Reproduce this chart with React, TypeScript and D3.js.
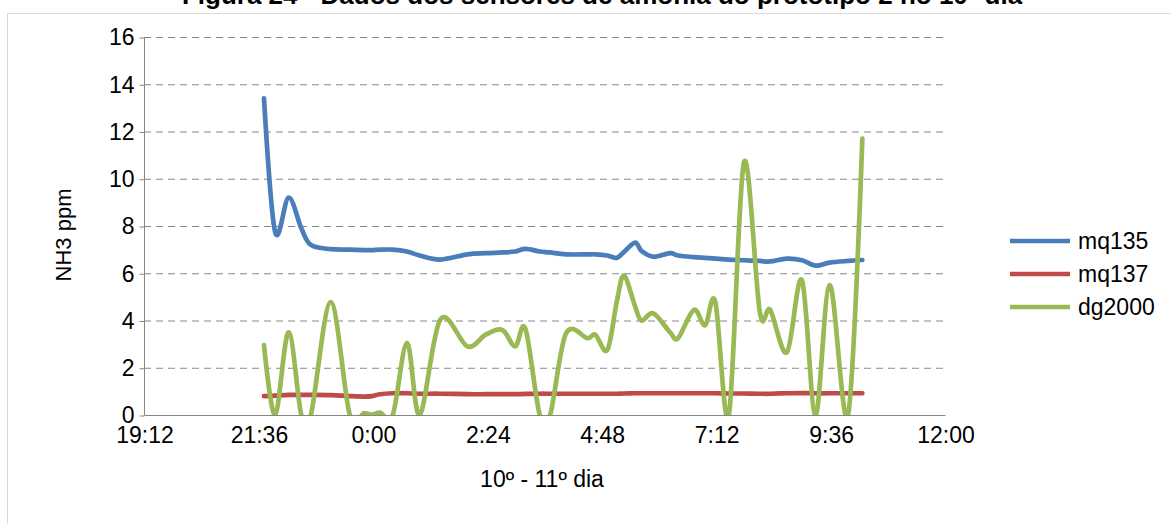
import React, { useEffect, useRef } from 'react';
import * as d3 from 'd3';

// readings (times after midnight belong to the next day)
const times = ["21:43","21:57","22:14","22:30","22:42","23:07","23:31","23:49","23:59","0:09","0:25","0:43","0:59","1:25","1:59","2:22","2:43","2:59","3:12","3:30","3:43","4:03","4:30","4:40","4:55","5:07","5:16","5:30","5:38","5:53","6:14","6:24","6:44","6:58","7:11","7:28","7:47","8:07","8:20","8:41","9:00","9:17","9:35","9:58","10:16"];
const mq135 = [13.4,7.75,9.2,7.9,7.2,7.02,7.0,6.98,6.98,7.0,7.0,6.92,6.75,6.58,6.8,6.85,6.88,6.92,7.03,6.92,6.88,6.8,6.8,6.8,6.75,6.65,6.9,7.3,6.95,6.7,6.85,6.75,6.68,6.65,6.62,6.58,6.55,6.52,6.5,6.62,6.55,6.32,6.45,6.52,6.56];
const mq137 = [0.8,0.82,0.85,0.85,0.85,0.84,0.8,0.78,0.8,0.88,0.92,0.92,0.9,0.9,0.88,0.88,0.88,0.88,0.89,0.9,0.9,0.9,0.9,0.9,0.9,0.9,0.91,0.92,0.92,0.92,0.92,0.92,0.92,0.92,0.92,0.91,0.91,0.9,0.9,0.92,0.93,0.92,0.92,0.92,0.92];
const dg2000 = [2.96,0,3.5,0,0,4.78,0,0.08,0.02,0.1,0,3.05,0,4.05,2.9,3.4,3.6,2.9,3.65,0,0,3.45,3.25,3.4,2.75,4.8,5.9,4.6,4.0,4.3,3.5,3.25,4.45,3.8,4.78,0,10.7,4.35,4.45,2.65,5.7,0,5.5,0,11.7];

const seriesNames = ["mq135", "mq137", "dg2000"];
const seriesColors = ["#4a7ebb", "#be4b48", "#98b954"];
const xTickLabels = ["19:12","21:36","0:00","2:24","4:48","7:12","9:36","12:00"];
const yTicks = [0, 2, 4, 6, 8, 10, 12, 14, 16];

const title = "Figura 24 - Dados dos sensores de amônia do protótipo 2 no 10º dia";
const xTitle = "10º - 11º dia";
const yTitle = "NH3 ppm";

const FONT = "'Liberation Sans', Arial, sans-serif";

// "HH:MM" -> fraction of a day, hours before 19h belong to the next day
function toDay(s: string) {
  const [h, m] = s.split(':').map(Number);
  return (h < 19 ? 1 : 0) + h / 24 + m / 1440;
}

export default function App() {
  const svgRef = useRef<SVGSVGElement>(null);
  const width = 1171;
  const height = 524;
  const left = 144, right = 945, top = 37, bottom = 415;

  useEffect(() => {
    const svg = d3.select(svgRef.current);
    svg.selectAll('*').remove();

    const x = d3.scaleLinear().domain([toDay("19:12"), toDay("12:00")]).range([left, right]);
    const y = d3.scaleLinear().domain([0, 16]).range([bottom, top]);

    // outer frame
    svg.append('rect')
      .attr('x', 7.5).attr('y', 13.5)
      .attr('width', 1200).attr('height', 600)
      .attr('fill', '#fff').attr('stroke', '#d9d9d9');

    // title (cut at the top of the picture)
    svg.append('text')
      .attr('x', 602).attr('y', 4)
      .attr('text-anchor', 'middle')
      .attr('font-family', FONT).attr('font-weight', 'bold').attr('font-size', 26)
      .text(title);

    // gridlines
    svg.append('g')
      .selectAll('line')
      .data(yTicks.filter(d => d > 0))
      .enter().append('line')
      .attr('x1', left).attr('x2', right)
      .attr('y1', d => y(d) + 0.5).attr('y2', d => y(d) + 0.5)
      .attr('stroke', '#868686').attr('stroke-width', 1)
      .attr('stroke-dasharray', '7,5');

    // y axis
    const yAxis = d3.axisLeft(y).tickValues(yTicks).tickSize(5).tickPadding(5);
    const gy = svg.append('g').attr('transform', `translate(${left + 0.5},0.5)`).call(yAxis);
    gy.select('.domain').attr('stroke', '#868686').attr('d', `M0,${top}V${bottom}`);
    gy.selectAll('.tick line').attr('stroke', '#868686');
    gy.selectAll('.tick text').attr('font-family', FONT).attr('font-size', 23).attr('fill', '#000');

    // x axis
    const xAxis = d3.axisBottom(x)
      .tickValues(xTickLabels.map(toDay))
      .tickFormat((d, i) => xTickLabels[i])
      .tickSize(0).tickPadding(11);
    const gx = svg.append('g').attr('transform', `translate(0.5,${bottom + 0.5})`).call(xAxis);
    gx.select('.domain').attr('stroke', '#868686').attr('d', `M${left},0H${right}`);
    gx.selectAll('.tick text').attr('font-family', FONT).attr('font-size', 23).attr('fill', '#000');

    // clip for series
    svg.append('clipPath').attr('id', 'plotClip')
      .append('rect').attr('x', left).attr('y', top - 5)
      .attr('width', right - left).attr('height', bottom - top + 5);

    const tx = times.map(toDay);
    const values = [mq135, mq137, dg2000];
    const lineGen = d3.line<number>()
      .x((d, i) => x(tx[i]))
      .y(d => y(d))
      .curve(d3.curveCardinal.tension(0));

    svg.append('g').attr('clip-path', 'url(#plotClip)')
      .selectAll('path')
      .data(values)
      .enter().append('path')
      .attr('d', d => lineGen(d))
      .attr('fill', 'none')
      .attr('stroke', (d, i) => seriesColors[i])
      .attr('stroke-width', 4.7)
      .attr('stroke-linejoin', 'round')
      .attr('stroke-linecap', 'round');

    // axis titles
    svg.append('text')
      .attr('x', 542).attr('y', 487)
      .attr('text-anchor', 'middle')
      .attr('font-family', FONT).attr('font-size', 23)
      .text(xTitle);
    svg.append('text')
      .attr('transform', 'translate(71,235) rotate(-90)')
      .attr('text-anchor', 'middle')
      .attr('font-family', FONT).attr('font-size', 22)
      .text(yTitle);

    // legend
    const legend = svg.append('g')
      .selectAll('g')
      .data(seriesNames)
      .enter().append('g')
      .attr('transform', (d, i) => `translate(1010,${241 + i * 33})`);
    legend.append('line')
      .attr('x1', 0).attr('x2', 60)
      .attr('stroke', (d, i) => seriesColors[i])
      .attr('stroke-width', 4.7);
    legend.append('text')
      .attr('x', 68).attr('y', 8)
      .attr('font-family', FONT).attr('font-size', 23)
      .text(d => d);
  }, []);

  return (
    <svg ref={svgRef} width={width} height={height}
      style={{ position: 'absolute', left: 0, top: 0, background: '#fff' }} />
  );
}
